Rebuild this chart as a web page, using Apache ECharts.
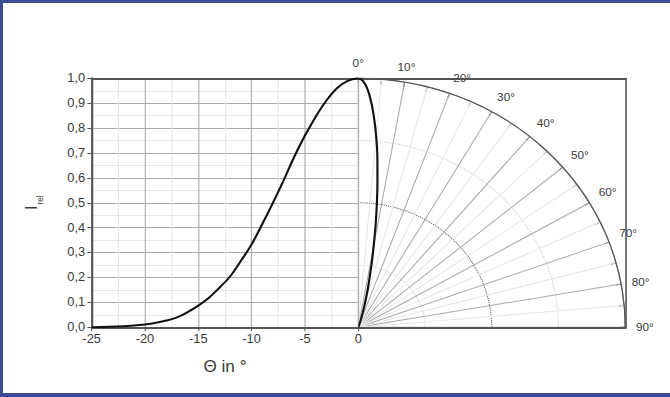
<!DOCTYPE html>
<html>
<head>
<meta charset="utf-8">
<script src="https://cdn.jsdelivr.net/npm/echarts@6/dist/echarts.min.js"></script>
<style>
html, body { margin: 0; padding: 0; background: #fff; overflow: hidden; }
#wrap { position: relative; width: 670px; height: 397px; overflow: hidden; background: #fff; }
/* the source picture is stretched sideways, so the polar part is an ellipse */
#main { position: absolute; left: 0; top: 0; width: 625px; height: 397px; transform: scaleX(1.072); transform-origin: 0 0; }
.bar { position: absolute; background: #3b4b96; pointer-events: none; }
</style>
</head>
<body>
<div id="wrap">
  <div id="main"></div>
  <div class="bar" style="left:0;top:0;width:3px;height:397px"></div>
  <div class="bar" style="left:0;top:0;width:670px;height:3px"></div>
  <div class="bar" style="left:0;top:393px;width:670px;height:4px"></div>
</div>
<script>
// beam angle in degrees and relative intensity
var angles = [0, 1, 2, 3, 4, 5, 6, 7, 8, 9, 10, 11, 12, 13, 14, 15, 16, 17, 18, 19, 20, 22, 25];
var intensity = [1.0, 0.99, 0.96, 0.91, 0.845, 0.77, 0.685, 0.59, 0.5, 0.415, 0.333, 0.267, 0.205, 0.16, 0.119, 0.087, 0.061, 0.04, 0.027, 0.018, 0.011, 0.004, 0.0];

// left half: intensity over negative angle
var cartData = [];
for (var i = angles.length - 1; i >= 0; i--) {
  cartData.push([-angles[i], intensity[i]]);
}
// right half: same curve as polar plot [radius, angle]
var polarData = angles.map(function (a, i) { return [intensity[i], a]; });

var dark = '#555';
var major = '#a9a9a9';
var minor = '#e6e6e6';
var txt = '#3a3a3a';

var chart = echarts.init(document.getElementById('main'), null, { renderer: 'svg' });

var option = {
  animation: false,
  grid: [
    { left: 85.5, top: 78.3, width: 248.7, height: 249 },
    { left: 334.2, top: 78.3, width: 249.5, height: 249 }
  ],
  xAxis: [
    {
      gridIndex: 0, type: 'value', min: -25, max: 0, interval: 5,
      name: 'Θ in °', nameLocation: 'middle', nameGap: 31,
      nameTextStyle: { fontSize: 16, color: txt, fontFamily: 'Arial' },
      axisLine: { show: true, onZero: false, lineStyle: { color: dark, width: 2 } },
      axisTick: { show: true, length: 4, lineStyle: { color: dark } },
      axisLabel: { fontSize: 12, color: txt, margin: 6, fontFamily: 'Arial' },
      splitLine: { show: true, lineStyle: { color: major } },
      minorTick: { show: false, splitNumber: 2 },
      minorSplitLine: { show: true, lineStyle: { color: minor } }
    },
    {
      gridIndex: 0, type: 'value', position: 'top', min: -25, max: 0,
      axisLine: { show: true, onZero: false, lineStyle: { color: dark, width: 2 } },
      axisTick: { show: false }, axisLabel: { show: false }, splitLine: { show: false }
    },
    {
      gridIndex: 1, type: 'value', min: 0, max: 1,
      axisLine: { show: true, onZero: false, lineStyle: { color: dark, width: 2 } },
      axisTick: { show: false }, axisLabel: { show: false }, splitLine: { show: false }
    },
    {
      gridIndex: 1, type: 'value', position: 'top', min: 0, max: 1,
      axisLine: { show: true, onZero: false, lineStyle: { color: dark, width: 2 } },
      axisTick: { show: false }, axisLabel: { show: false }, splitLine: { show: false }
    }
  ],
  yAxis: [
    {
      gridIndex: 0, type: 'value', min: 0, max: 1, interval: 0.1,
      name: '{a|I}{b|rel}', nameLocation: 'middle', nameGap: 44, nameRotate: 90,
      nameTextStyle: {
        rich: {
          a: { fontSize: 16, color: txt, fontFamily: 'Arial', verticalAlign: 'bottom', padding: [0, 0, 4, 0] },
          b: { fontSize: 8, color: txt, fontFamily: 'Arial', verticalAlign: 'bottom', padding: [0, 0, 0, 1] }
        }
      },
      axisLine: { show: true, onZero: false, lineStyle: { color: dark, width: 2 } },
      axisTick: { show: true, length: 4, lineStyle: { color: dark } },
      axisLabel: {
        fontSize: 12, color: txt, margin: 6, fontFamily: 'Arial',
        formatter: function (v) { return v.toFixed(1).replace('.', ','); }
      },
      splitLine: { show: true, lineStyle: { color: major } },
      minorTick: { show: false, splitNumber: 2 },
      minorSplitLine: { show: true, lineStyle: { color: minor } }
    },
    {
      gridIndex: 1, type: 'value', position: 'right', min: 0, max: 1,
      axisLine: { show: true, onZero: false, lineStyle: { color: dark, width: 1.5 } },
      axisTick: { show: false }, axisLabel: { show: false }, splitLine: { show: false }
    }
  ],
  polar: { center: [334.2, 327.3], radius: 249 },
  angleAxis: {
    type: 'value', min: 0, max: 90, interval: 10,
    startAngle: 90, endAngle: 0, clockwise: true,
    axisLine: { show: true, lineStyle: { color: dark, width: 1.2 } },
    axisTick: { show: true, inside: true, length: 5, lineStyle: { color: dark } },
    minorTick: { show: true, splitNumber: 2, length: 5, lineStyle: { color: dark } },
    axisLabel: { fontSize: 11, color: txt, margin: 10, fontFamily: 'Arial', formatter: '{value}°' },
    splitLine: { show: true, lineStyle: { color: major } },
    minorSplitLine: { show: true, lineStyle: { color: minor } }
  },
  radiusAxis: {
    type: 'value', min: 0, max: 1, interval: 0.25,
    axisLine: { show: false }, axisTick: { show: false }, axisLabel: { show: false },
    splitLine: { show: true, lineStyle: { color: ['#ccc', '#ccc', '#555', '#ccc', '#555'], type: 'dotted' } }
  },
  series: [
    {
      type: 'line', xAxisIndex: 0, yAxisIndex: 0, data: cartData,
      smooth: 0.4, showSymbol: false, z: 5,
      lineStyle: { color: '#111', width: 2 }
    },
    {
      type: 'line', coordinateSystem: 'polar', polarIndex: 0, data: polarData,
      smooth: 0.4, showSymbol: false, z: 5,
      lineStyle: { color: '#111', width: 2 }
    }
  ]
};

chart.setOption(option);
</script>
</body>
</html>
